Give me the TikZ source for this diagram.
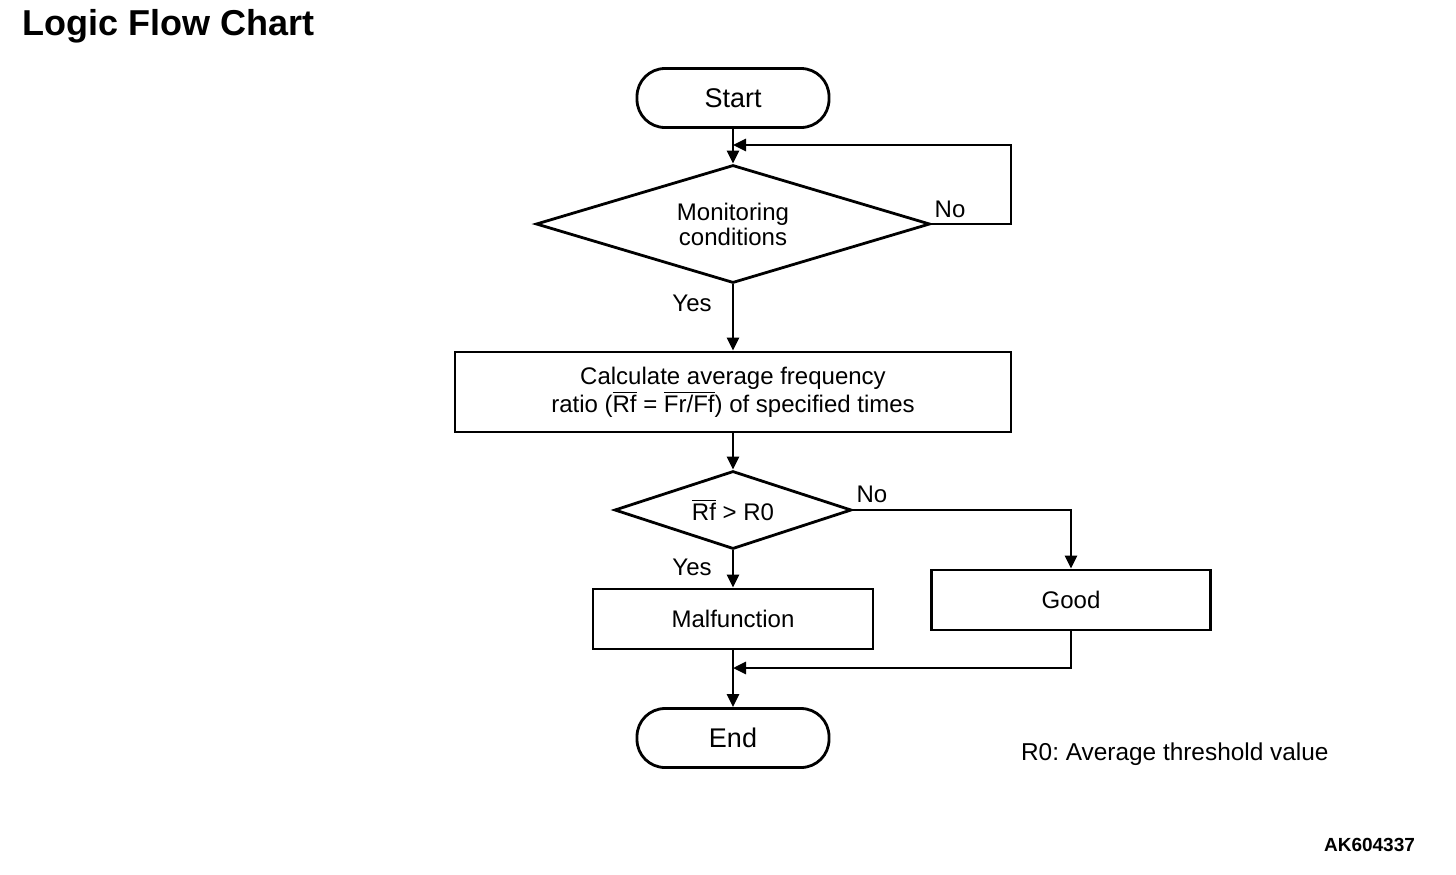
\documentclass[tikz,border=0pt]{standalone}
\usepackage{fontspec}
\setmainfont{Liberation Sans}
\usetikzlibrary{shapes.geometric,arrows.meta}

\newcommand{\barred}[1]{\ensuremath{\overline{\mbox{#1}}}}

\tikzset{
  flowline/.style={line width=1.4pt,-{Triangle[length=6.5pt,width=6pt]}},
  terminal/.style={draw,line width=1.4pt,rounded corners=14pt,minimum width=96pt,minimum height=29.5pt,font=\fontsize{13.5}{15}\selectfont},
  process/.style={draw,line width=1.4pt,align=center,font=\fontsize{12}{13}\selectfont},
  decision/.style={draw,diamond,line width=1.4pt,inner sep=0pt,align=center,font=\fontsize{12}{12.5}\selectfont},
  answer/.style={font=\fontsize{12}{13}\selectfont},
}

\begin{document}
\begin{tikzpicture}[x=0.5pt,y=-0.5pt]
    \useasboundingbox (0,0) rectangle (1456,874);

    \node[anchor=base west,font=\bfseries\fontsize{18}{20}\selectfont] (title) at (15,35) {Logic Flow Chart};

    \node[terminal] (start) at (733,98) {Start};
    \node[decision,aspect=3.34,minimum width=197pt,minimum height=59pt] (mon) at (733,224) {Monitoring\\conditions};
    \node[process,minimum width=278pt,minimum height=40pt] (calc) at (733,392)
        {Calculate average frequency\\ratio (\barred{Rf} = \barred{Fr/Ff}) of specified times};
    \node[decision,aspect=3.04,minimum width=118.5pt,minimum height=39pt] (cmp) at (733,510) {\barred{Rf} > R0};
    \node[process,minimum width=140pt,minimum height=30pt] (fault) at (733,619) {Malfunction};
    \node[process,minimum width=139.5pt,minimum height=30pt] (good) at (1071,600) {Good};
    \node[terminal] (finish) at (733,738) {End};

    % branch labels
    \node[answer] (no1) at (950,209) {No};
    \node[answer] (yes1) at (692,303) {Yes};
    \node[answer] (no2) at (872,494) {No};
    \node[answer] (yes2) at (692,567) {Yes};

    \node[anchor=west,font=\fontsize{12.2}{14}\selectfont] (note) at (1014,754) {R0:\ Average threshold value};
    \node[anchor=east,font=\bfseries\fontsize{9.5}{11}\selectfont] (code) at (1422,845) {AK604337};

    \coordinate (join1) at (733,145);
    \coordinate (loop) at (1011,145);
    \coordinate (join2) at (733,668);

    \draw[flowline] (start) -- (mon);
    \draw[flowline] (mon.east) -| (loop) -- (join1);
    \draw[flowline] (mon) -- (calc);
    \draw[flowline] (calc) -- (cmp);
    \draw[flowline] (cmp) -- (fault);
    \draw[flowline] (cmp.east) -| (good);
    \draw[flowline] (good) |- (join2);
    \draw[flowline] (fault) -- (finish);
\end{tikzpicture}
\end{document}
